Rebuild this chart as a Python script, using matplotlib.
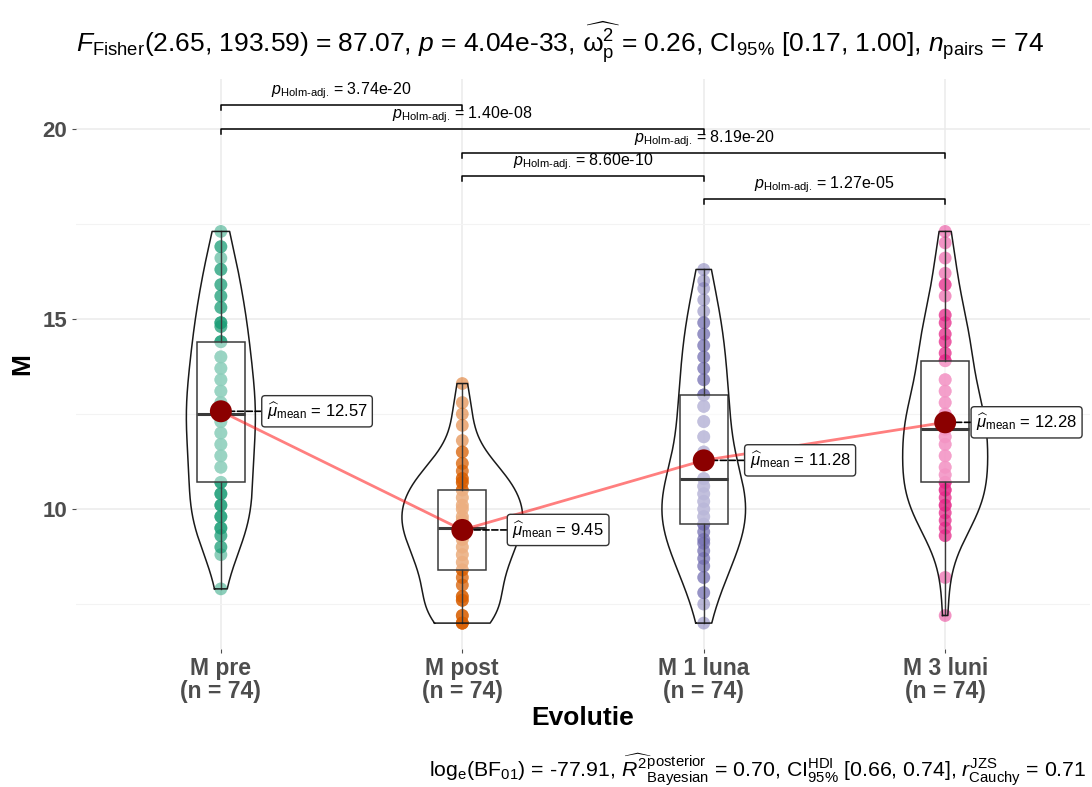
import numpy as np
import matplotlib.pyplot as plt

plt.rcParams["font.family"] = ["Liberation Sans", "DejaVu Sans"]
plt.rcParams["mathtext.fontset"] = "custom"
plt.rcParams["mathtext.rm"] = "Liberation Sans"
plt.rcParams["mathtext.it"] = "Liberation Sans:italic"
plt.rcParams["mathtext.bf"] = "Liberation Sans:bold"

####################################
# Data
categories = ["M pre", "M post", "M 1 luna", "M 3 luni"]
n_obs = [74, 74, 74, 74]
colors = ["#1B9E77", "#D95F02", "#7570B3", "#E7298A"]

pre_vals = [7.9, 8.8, 9.0, 9.3, 9.5, 9.8, 10.1, 10.4, 10.7, 11.1, 11.4, 11.7, 12.0, 12.3,
            12.5, 12.8, 13.1, 13.4, 13.7, 14.0, 14.4, 14.8, 14.9, 15.3, 15.6, 15.9, 16.3,
            16.6, 16.9, 17.3]
pre_counts = [1, 1, 2, 2, 3, 3, 3, 3, 3, 3, 3, 3, 3, 3,
              3, 3, 3, 3, 3, 3, 3, 2, 3, 2, 2, 2, 2,
              1, 2, 1]

post_vals = [7.0, 7.2, 7.6, 7.7, 8.0, 8.2, 8.4, 8.6, 8.8, 9.0, 9.2, 9.4, 9.5, 9.7, 9.8,
             10.0, 10.1, 10.3, 10.5, 10.7, 10.8, 11.0, 11.2, 11.5, 11.8, 12.2, 12.5, 12.8,
             13.3]
post_counts = [5, 3, 3, 3, 2, 2, 3, 3, 3, 3, 3, 3, 3, 3, 3,
               3, 3, 3, 3, 3, 3, 2, 2, 2, 1, 1, 1, 1,
               1]

luna1_vals = [7.0, 7.5, 7.8, 8.2, 8.5, 8.7, 8.9, 9.1, 9.2, 9.4, 9.6, 9.8, 10.0, 10.2,
              10.4, 10.6, 10.8, 11.2, 11.5, 11.9, 12.3, 12.7, 13.0, 13.4, 13.7, 14.0,
              14.3, 14.6, 14.9, 15.2, 15.5, 15.8, 16.0, 16.3]
luna1_counts = [1, 1, 2, 2, 2, 2, 2, 2, 2, 2, 3, 3, 3, 3,
                3, 3, 3, 3, 3, 3, 3, 3, 3, 2, 2, 2,
                2, 2, 2, 1, 1, 1, 1, 1]

luni3_vals = [7.2, 8.2, 9.3, 9.5, 9.7, 9.9, 10.1, 10.3, 10.5, 10.7, 10.9, 11.1, 11.4,
              11.7, 11.9, 12.1, 12.3, 12.5, 12.8, 13.1, 13.4, 13.9, 14.1, 14.4, 14.6,
              14.9, 15.1, 15.6, 15.9, 16.2, 16.6, 17.0, 17.3]
luni3_counts = [1, 1, 2, 2, 2, 2, 3, 2, 3, 3, 3, 3, 3,
                3, 3, 3, 3, 3, 3, 3, 3, 3, 2, 2, 2,
                2, 2, 1, 2, 1, 1, 1, 1]

# pairwise comparisons shown as brackets
pairs = [(0, 1), (0, 2), (1, 3), (1, 2), (2, 3)]
pair_pvals = ["3.74e-20", "1.40e-08", "8.19e-20", "8.60e-10", "1.27e-05"]

title_txt = (r"$F_{\mathrm{Fisher}}$(2.65, 193.59) = 87.07, $p$ = 4.04e-33, "
             r"$\widehat{\mathrm{ω}_{\mathrm{p}}^{2}}$ = 0.26, CI$_{95\%}$ [0.17, 1.00], "
             r"$n_{\mathrm{pairs}}$ = 74")
caption_txt = (r"log$_{\mathrm{e}}$(BF$_{01}$) = -77.91, "
               r"$\widehat{R^{2}}^{\mathrm{posterior}}_{\mathrm{Bayesian}}$ = 0.70, "
               r"CI$^{\mathrm{HDI}}_{95\%}$ [0.66, 0.74], "
               r"$r^{\mathrm{JZS}}_{\mathrm{Cauchy}}$ = 0.71")

####################################
# Helpers
groups = [
    np.repeat(pre_vals, pre_counts),
    np.repeat(post_vals, post_counts),
    np.repeat(luna1_vals, luna1_counts),
    np.repeat(luni3_vals, luni3_counts),
]


def bw_nrd0(x):
    q75, q25 = np.percentile(x, [75, 25])
    lo = min(np.std(x, ddof=1), (q75 - q25) / 1.34)
    return 0.9 * lo * len(x) ** -0.2


def kde(x, grid):
    bw = bw_nrd0(x)
    z = (grid[:, None] - x[None, :]) / bw
    return np.exp(-0.5 * z**2).sum(axis=1) / (len(x) * bw * np.sqrt(2 * np.pi))


grids = [np.linspace(g.min(), g.max(), 512) for g in groups]
dens = [kde(g, gr) for g, gr in zip(groups, grids)]
dmax = max(d.max() for d in dens)

####################################
# Figure
fig = plt.figure(figsize=(10.92, 7.87), dpi=100)
ax = fig.add_axes([0.0696, 0.1754, 0.9286, 0.7243])

xs = np.arange(1, len(categories) + 1)
means = [g.mean() for g in groups]

for i, (g, col) in enumerate(zip(groups, colors)):
    x0 = xs[i]
    # raw points
    ax.scatter(np.full(len(g), x0), g, s=85, color=col, alpha=0.5,
               edgecolors="none", zorder=2)
    # boxplot
    q1, med, q3 = np.percentile(g, [25, 50, 75])
    iqr = q3 - q1
    lo_w = g[g >= q1 - 1.5 * iqr].min()
    hi_w = g[g <= q3 + 1.5 * iqr].max()
    ax.add_patch(plt.Rectangle((x0 - 0.1, q1), 0.2, q3 - q1, facecolor="white",
                               alpha=0.5, edgecolor="none", zorder=3))
    ax.add_patch(plt.Rectangle((x0 - 0.1, q1), 0.2, q3 - q1, facecolor="none",
                               edgecolor="#3a3a3a", lw=1.1, zorder=3.1))
    ax.plot([x0 - 0.1, x0 + 0.1], [med, med], color="#3a3a3a", lw=2.2, zorder=3.2,
            solid_capstyle="butt")
    ax.plot([x0, x0], [q3, hi_w], color="#3a3a3a", lw=1.0, zorder=3.1)
    ax.plot([x0, x0], [lo_w, q1], color="#3a3a3a", lw=1.0, zorder=3.1)
    # violin (trimmed, area scaled)
    hw = 0.25 * dens[i] / dmax
    vx = np.concatenate([x0 - hw, (x0 + hw)[::-1], [x0 - hw[0]]])
    vy = np.concatenate([grids[i], grids[i][::-1], [grids[i][0]]])
    ax.plot(vx, vy, color="#1a1a1a", lw=1.1, zorder=4)

# centrality path + means
ax.plot(xs, means, color="red", alpha=0.5, lw=2, zorder=5)
ax.scatter(xs, means, s=250, color="#8B0000", zorder=6, edgecolors="none")
label_dx = [0.19, 0.207, 0.19, 0.128]  # repelled label offsets
for x0, m, dx in zip(xs, means, label_dx):
    ax.annotate(r"$\widehat{\mu}_{\mathrm{mean}}$ = %.2f" % m, xy=(x0, m),
                xytext=(x0 + dx, m), ha="left", va="center", fontsize=12,
                bbox=dict(boxstyle="round,pad=0.3,rounding_size=0.2", fc="white",
                          ec="#333333", lw=1.0),
                arrowprops=dict(arrowstyle="-", ls="--", color="black", lw=1.2,
                                shrinkA=0, shrinkB=0),
                zorder=5.5)

# significance brackets
bracket_y = [20.63, 20.0, 19.37, 18.76, 18.16]
tip = 0.13
for (a, b), pv, yb in zip(pairs, pair_pvals, bracket_y):
    xa, xb = xs[a], xs[b]
    ax.plot([xa, xa, xb, xb], [yb - tip, yb, yb, yb - tip], color="black", lw=1.1,
            zorder=4)
    ax.text((xa + xb) / 2, yb + 0.1, r"$p_{\text{Holm-adj.}}$ = " + pv,
            ha="center", va="bottom", fontsize=11.5, zorder=4)

# axes styling
ax.set_xlim(0.4, 4.6)
ax.set_ylim(6.32, 21.31)
ax.set_xticks(xs)
ax.set_xticklabels(["%s\n(n = %d)" % (c, n) for c, n in zip(categories, n_obs)],
                   fontsize=16.5, fontweight="bold", color="#4d4d4d", linespacing=1.0)
ax.set_yticks([10, 15, 20])
ax.set_yticks([7.5, 12.5, 17.5], minor=True)
ax.tick_params(axis="y", labelsize=16, colors="#4d4d4d", length=3, width=0.8)
ax.tick_params(axis="x", length=3, width=0.8, colors="#4d4d4d", pad=3)
ax.tick_params(axis="y", which="minor", length=0)
for lab in ax.get_yticklabels():
    lab.set_fontweight("bold")
ax.grid(True, which="major", color="#ebebeb", lw=1.1, zorder=0)
ax.grid(True, which="minor", axis="y", color="#f3f3f3", lw=0.8, zorder=0)
ax.set_axisbelow(True)
for s in ax.spines.values():
    s.set_visible(False)

ax.set_xlabel("Evolutie", fontsize=19, fontweight="bold", labelpad=2)
ax.set_ylabel("M", fontsize=19, fontweight="bold", labelpad=6)

fig.text(0.0696, 0.947, title_txt, ha="left", va="center", fontsize=19)
fig.text(0.995, 0.022, caption_txt, ha="right", va="center", fontsize=15.3)

plt.savefig("out.png", dpi=100)
